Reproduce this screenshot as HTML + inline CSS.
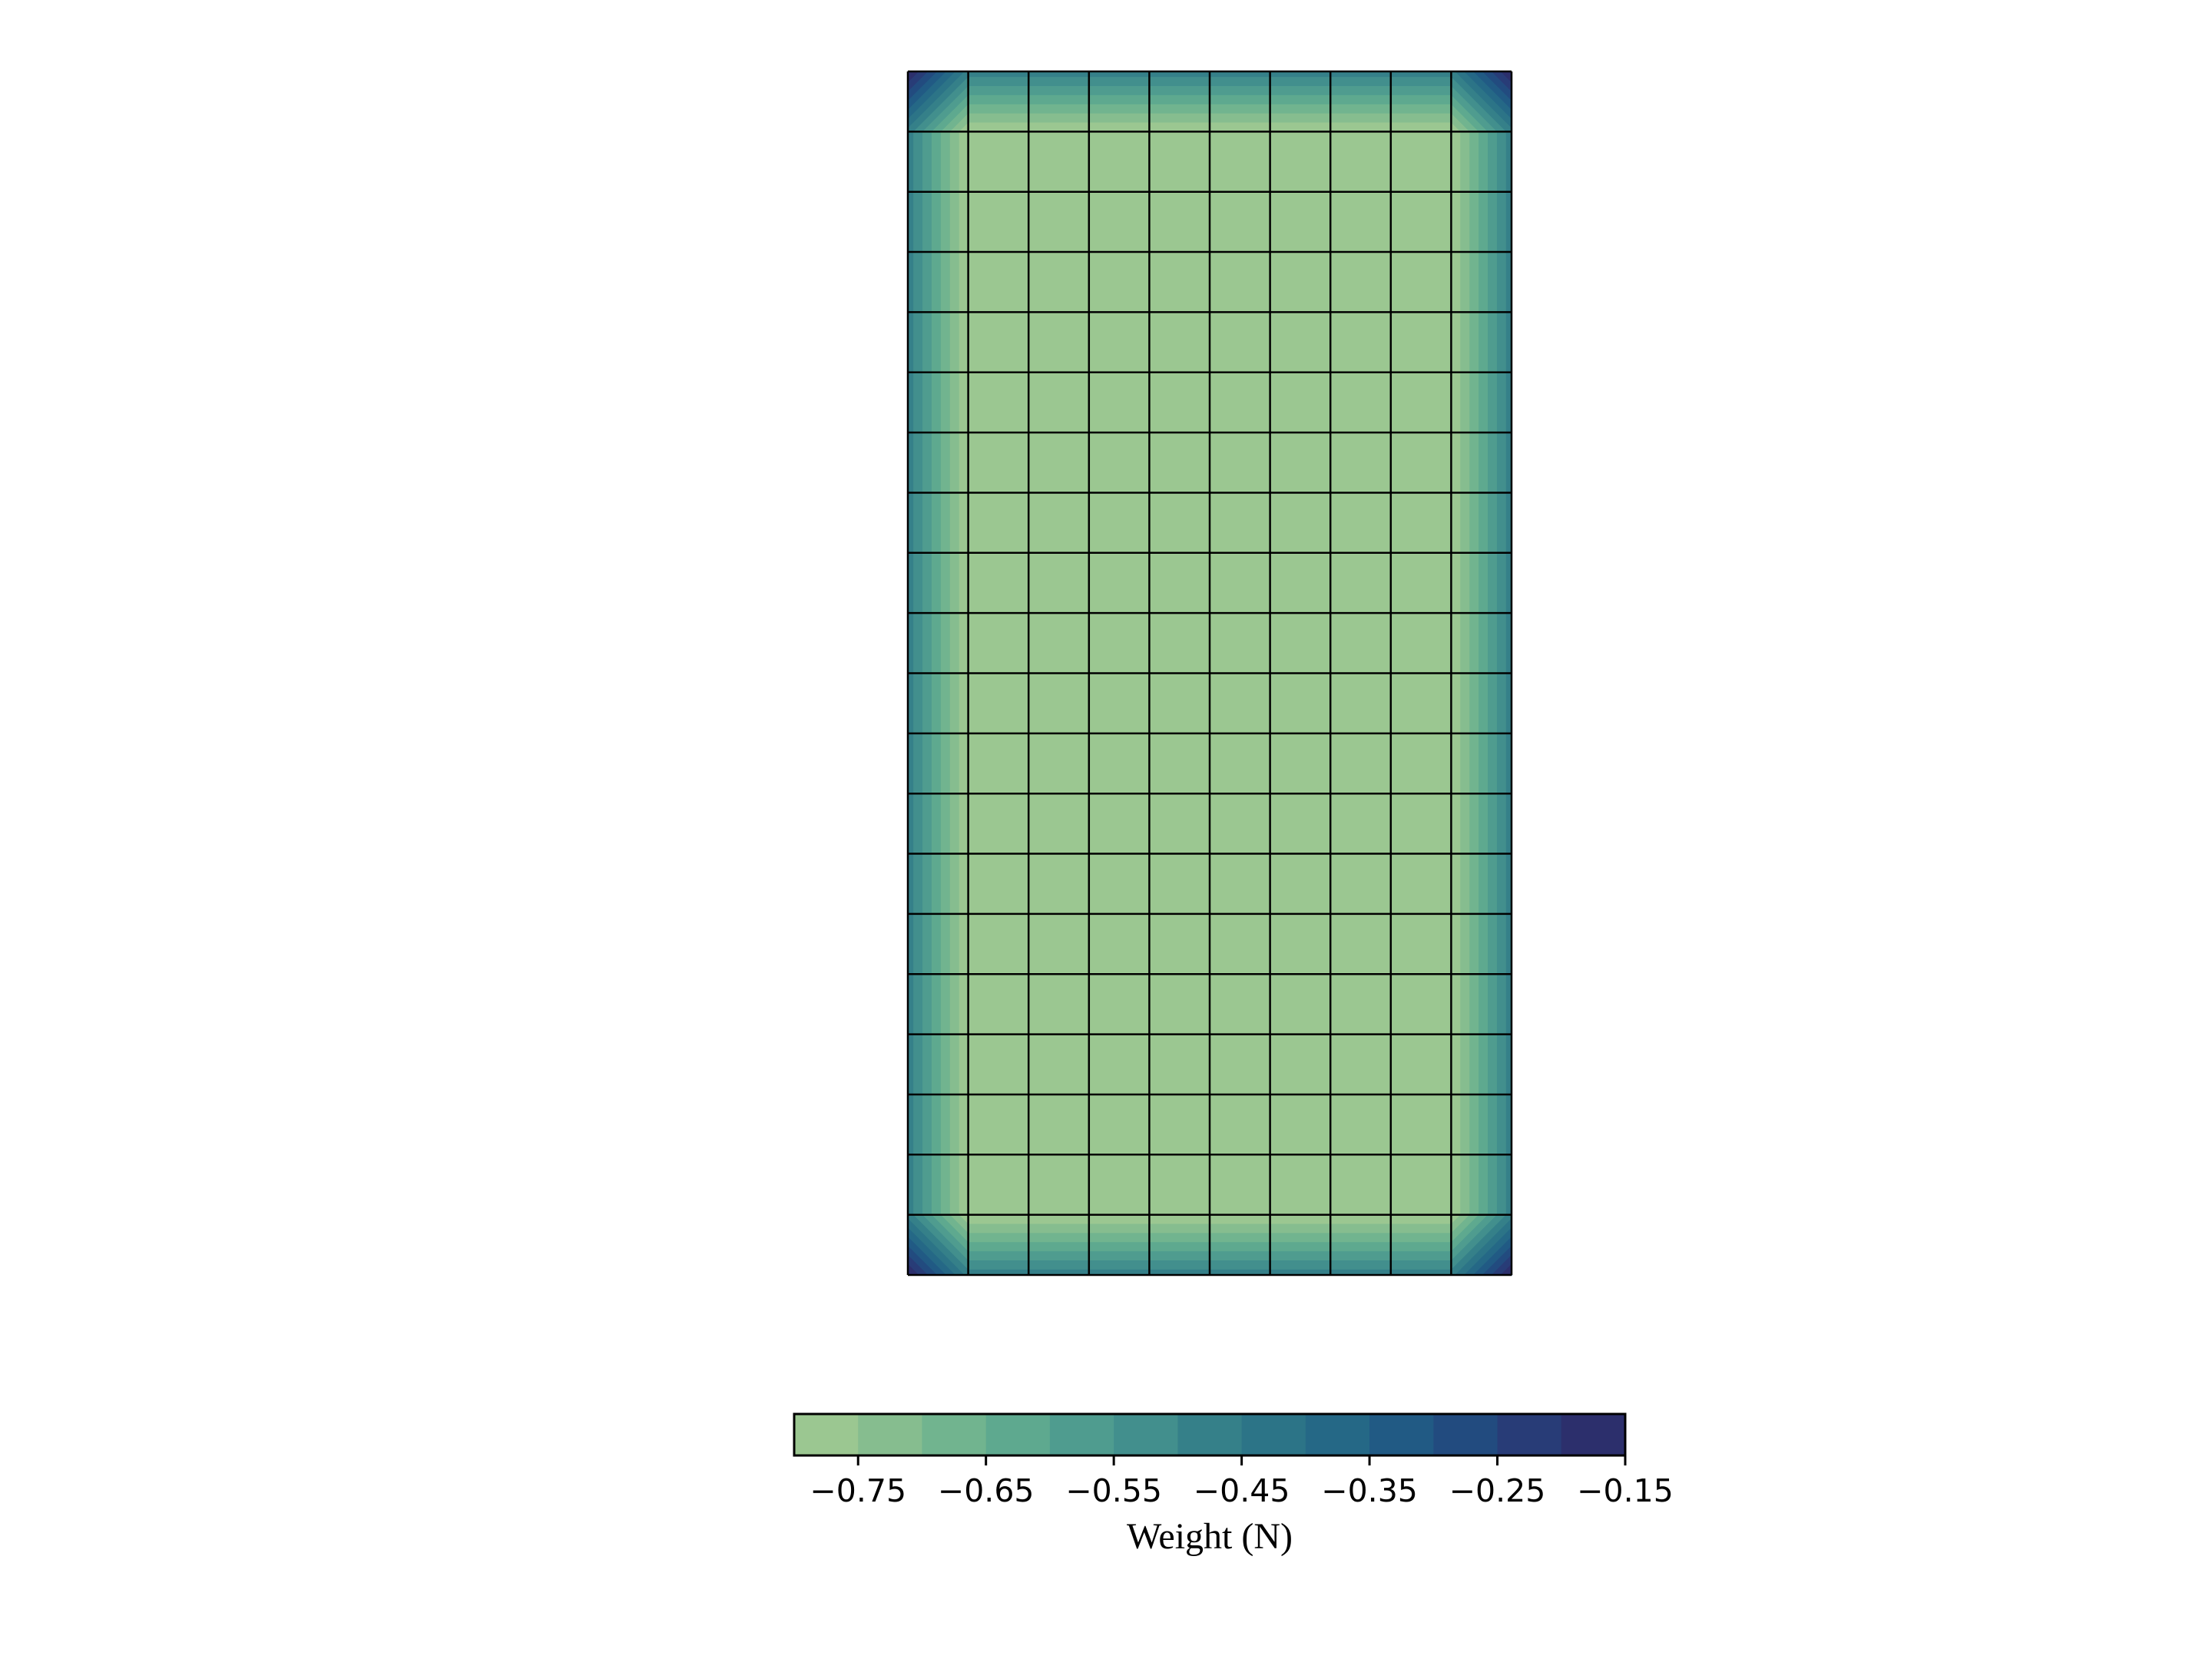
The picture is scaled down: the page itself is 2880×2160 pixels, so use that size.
<!DOCTYPE html>
<html><head><meta charset="utf-8"><style>
html,body{margin:0;padding:0;background:#fff;}
svg{display:block;}
</style></head><body>
<svg id="chart" width="2880" height="2160" viewBox="0 0 2880 2160" xmlns="http://www.w3.org/2000/svg">
<g id="mesh"></g>
<g id="grid"></g>
<g id="cbar"></g>
</svg>
<script>
// ---- data ----
const baseValue = -0.8;
const xNodeProfile = [0.33,0,0,0,0,0,0,0,0,0,0.33];
const yNodeProfile = [0.33,0,0,0,0,0,0,0,0,0,0,0,0,0,0,0,0,0,0,0,0.33];
const levelValues = [-0.8,-0.75,-0.7,-0.65,-0.6,-0.55,-0.5,-0.45,-0.4,-0.35,-0.3,-0.25,-0.2,-0.15];
const levelColors = ["#9bc791","#86bd8f","#71b48f","#5ea98f","#4f9c8f","#428f8d","#358089","#2c7487","#256886","#215a84","#224b7f","#283c77","#2c2f6c"];
const tickValues = [-0.75,-0.65,-0.55,-0.45,-0.35,-0.25,-0.15];
const tickLabels = ["\u22120.75","\u22120.65","\u22120.55","\u22120.45","\u22120.35","\u22120.25","\u22120.15"];
const colorbarTitle = "Weight (N)";

const NS="http://www.w3.org/2000/svg";
const meshL=1182, meshR=1968, meshT=93, meshB=1660;
const nCols=xNodeProfile.length-1, nRows=yNodeProfile.length-1;
const cw=(meshR-meshL)/nCols, ch=(meshB-meshT)/nRows;
const cbL=1034, cbR=2116, cbT=1841, cbB=1895;
const vmin=levelValues[0], vmax=levelValues[levelValues.length-1];
function cbX(v){return cbL+(v-vmin)/(vmax-vmin)*(cbR-cbL);}
function nodeVal(i,j){return baseValue+xNodeProfile[i]+yNodeProfile[j];}
function bandIndex(v){let k=0;for(let i=0;i<levelValues.length-1;i++){if(v>=levelValues[i]-1e-9)k=i;}return Math.min(k,levelColors.length-1);}
function el(tag,attrs,parent){const e=document.createElementNS(NS,tag);for(const k in attrs)e.setAttribute(k,attrs[k]);parent.appendChild(e);return e;}
function clip(poly,f){
  const out=[];
  for(let i=0;i<poly.length;i++){
    const a=poly[i],b=poly[(i+1)%poly.length];
    const fa=f(a),fb=f(b);
    if(fa>=0)out.push(a);
    if((fa>=0)!==(fb>=0)){const t=fa/(fa-fb);out.push([a[0]+t*(b[0]-a[0]),a[1]+t*(b[1]-a[1])]);}
  }
  return out;
}
const mesh=document.getElementById('mesh');
for(let r=0;r<nRows;r++){
  for(let c=0;c<nCols;c++){
    const x0=meshL+c*cw,y0=meshT+r*ch;
    const v00=nodeVal(c,r),v10=nodeVal(c+1,r),v01=nodeVal(c,r+1);
    const gx=(v10-v00)/cw, gy=(v01-v00)/ch;
    const f=p=>v00+gx*(p[0]-x0)+gy*(p[1]-y0);
    const vals=[v00,v10,v01,nodeVal(c+1,r+1)];
    const lo=Math.min(...vals),hi=Math.max(...vals);
    const rect=el('rect',{x:x0,y:y0,width:cw+0.6,height:ch+0.6,fill:levelColors[bandIndex(lo)]},mesh);
    
    
    if(hi-lo>1e-9){
      const poly=[[x0,y0],[x0+cw+0.6,y0],[x0+cw+0.6,y0+ch+0.6],[x0,y0+ch+0.6]];
      for(let k=1;k<levelValues.length-1;k++){
        const L=levelValues[k];
        if(L<=lo+1e-9||L>hi)continue;
        const p=clip(poly,q=>f(q)-L);
        if(p.length<3)continue;
        const pg=el('polygon',{points:p.map(q=>q[0].toFixed(2)+','+q[1].toFixed(2)).join(' '),fill:levelColors[k]},mesh);
        
        
      }
    }
  }
}
const grid=document.getElementById('grid');
for(let c=0;c<=nCols;c++){
  const ln=el('line',{x1:meshL+c*cw,y1:meshT,x2:meshL+c*cw,y2:meshB,stroke:'#000','stroke-width':2.5},grid);
  
  
}
for(let r=0;r<=nRows;r++){
  const ln=el('line',{x1:meshL,y1:meshT+r*ch,x2:meshR,y2:meshT+r*ch,stroke:'#000','stroke-width':2.5},grid);
  
  
}
const cb=document.getElementById('cbar');
for(let k=0;k<levelColors.length;k++){
  const x=cbX(levelValues[k]),x2=cbX(levelValues[k+1]);
  const rc=el('rect',{x:x,y:cbT,width:x2-x+0.5,height:cbB-cbT,fill:levelColors[k]},cb);
  
  
}
const fr=el('rect',{x:cbL,y:cbT,width:cbR-cbL,height:cbB-cbT,fill:'none',stroke:'#000','stroke-width':3},cb);


tickValues.forEach((v,i)=>{
  const x=cbX(v);
  const t=el('line',{x1:x,y1:cbB,x2:x,y2:cbB+13,stroke:'#000','stroke-width':3},cb);
  
  
  const tx=el('text',{x:x,y:1955,'text-anchor':'middle','font-family':'DejaVu Sans, sans-serif','font-size':41,fill:'#000'},cb);
  tx.textContent=tickLabels[i];
  
  
});
const ttl=el('text',{x:(cbL+cbR)/2,y:2016,'text-anchor':'middle','font-family':'Liberation Serif, serif','font-size':48,fill:'#000'},cb);
ttl.textContent=colorbarTitle;


</script>
</body></html>
